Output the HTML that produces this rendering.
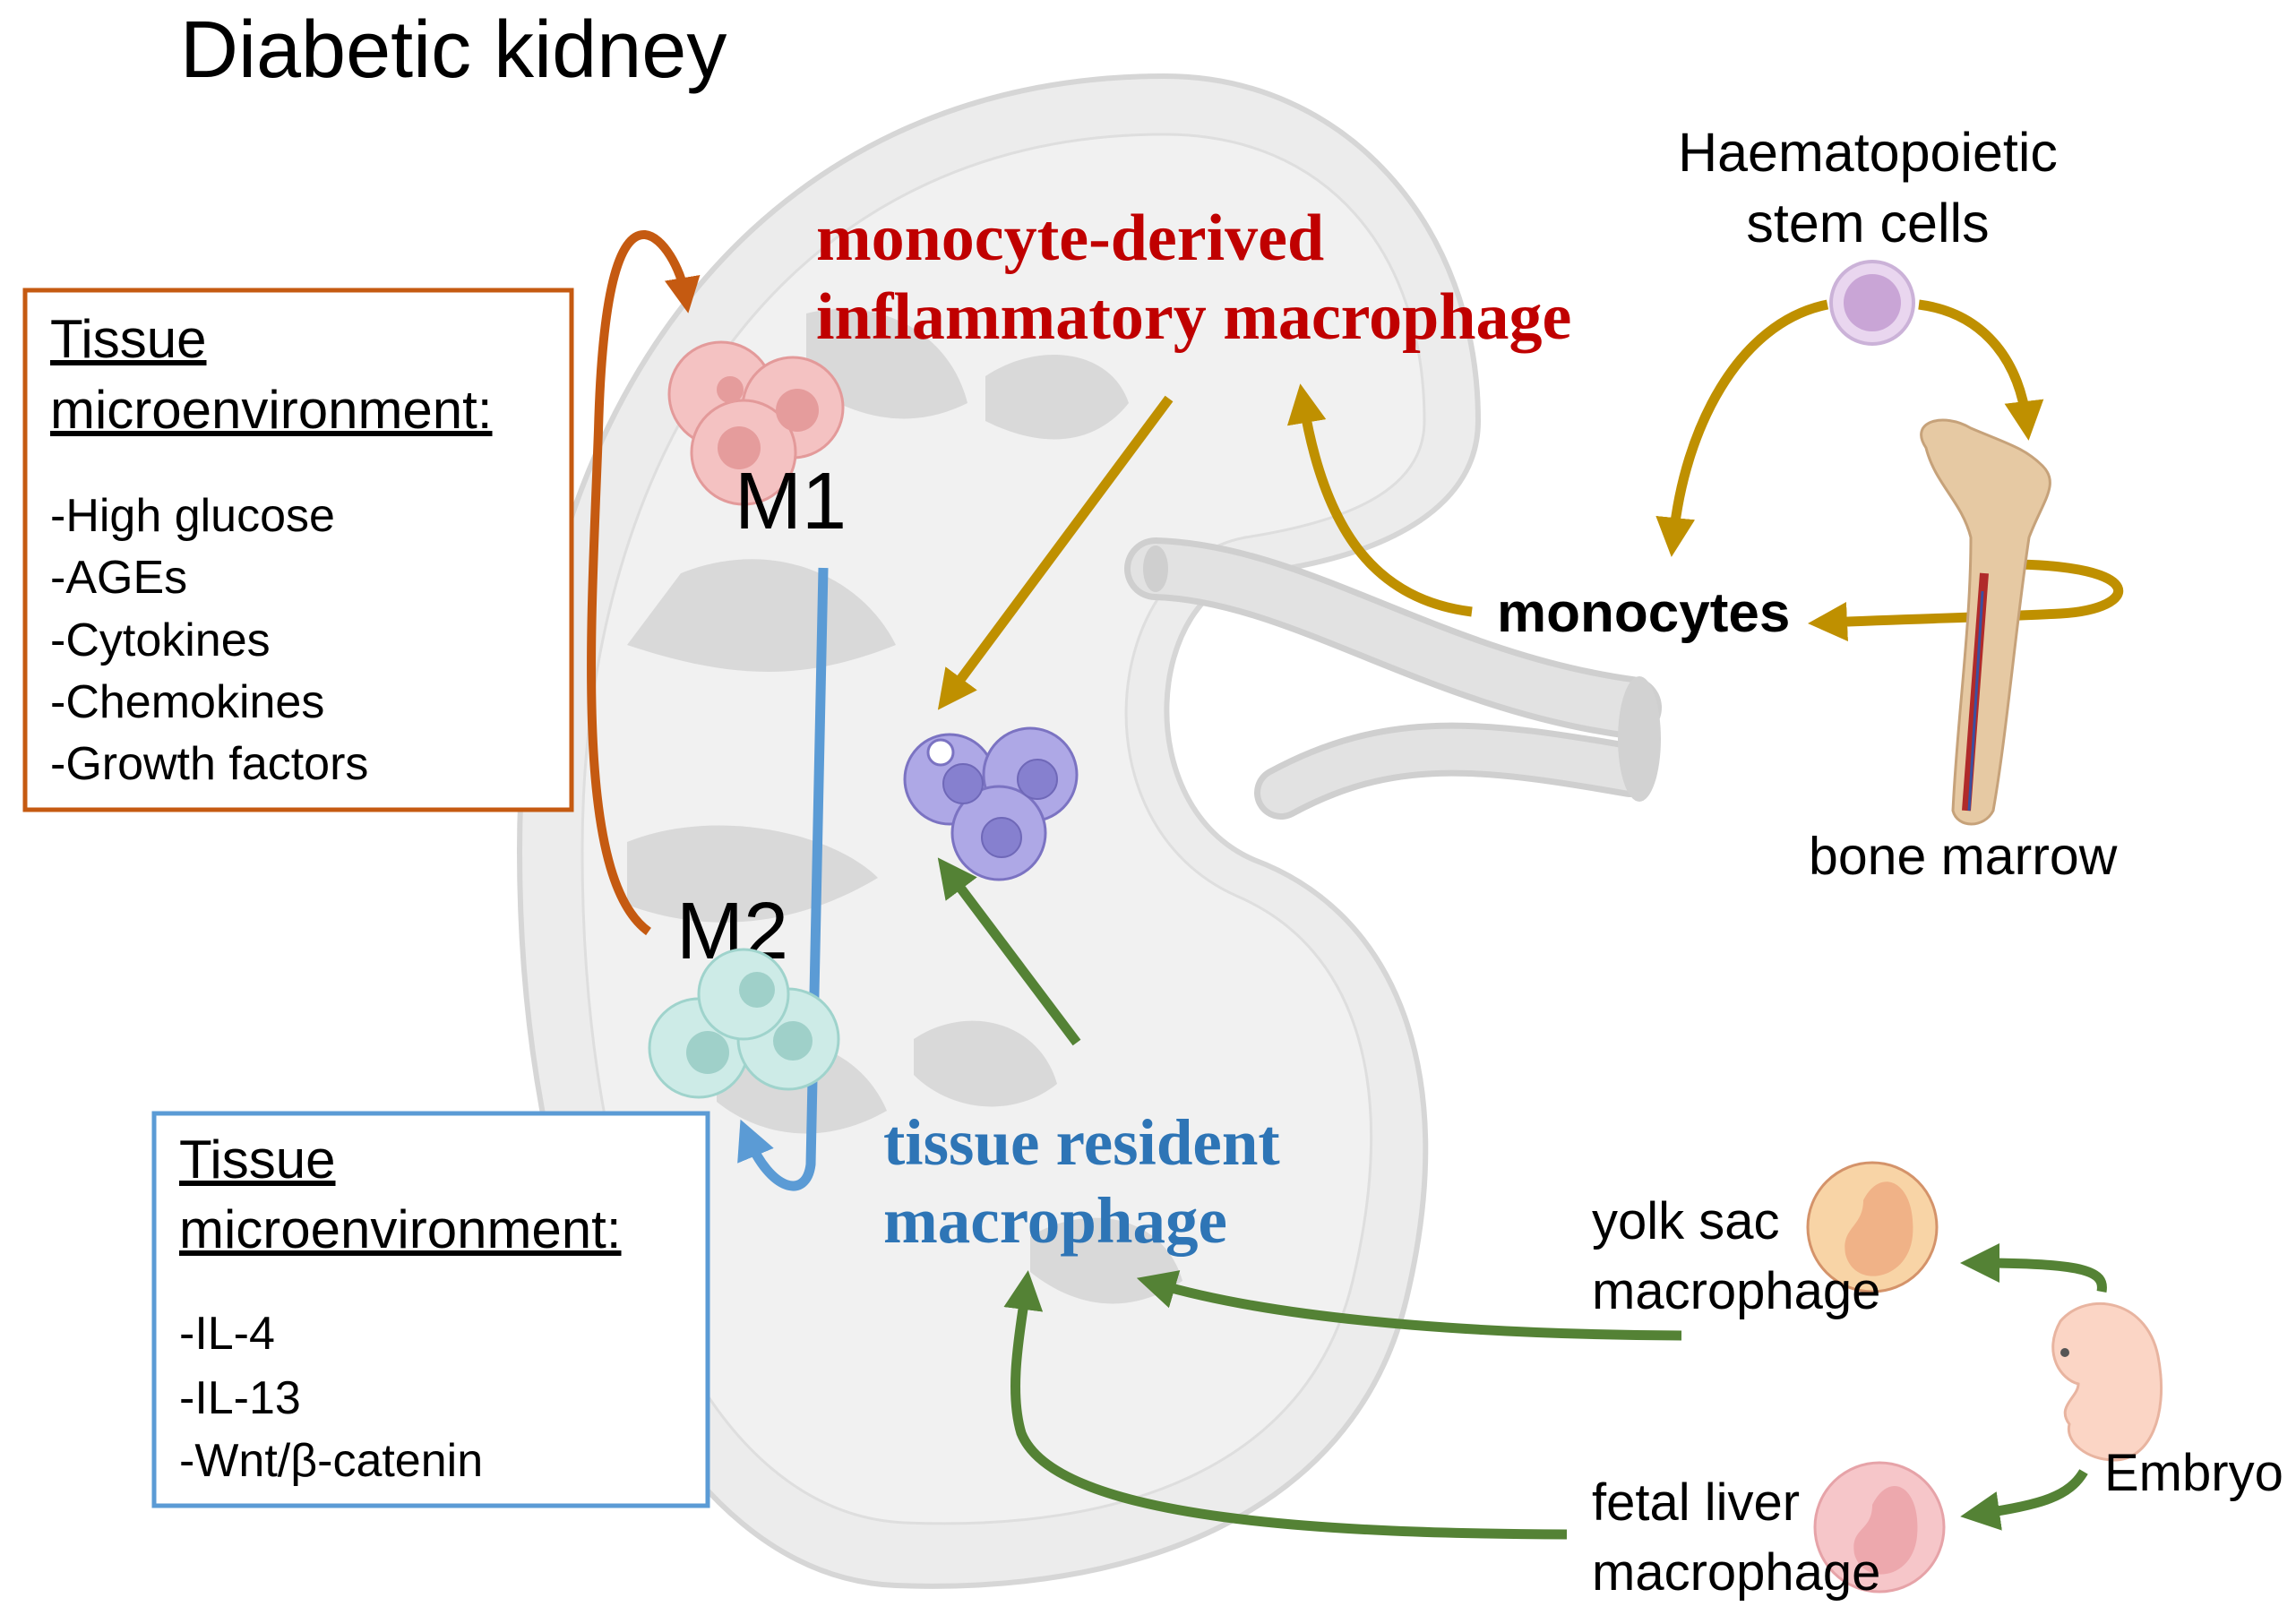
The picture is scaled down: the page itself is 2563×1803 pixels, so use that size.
<!DOCTYPE html>
<html><head><meta charset="utf-8"><style>
html,body{margin:0;padding:0;background:#fff}
svg{display:block}
.s{font-family:"Liberation Sans",sans-serif}
.r{font-family:"Liberation Serif",serif;font-weight:bold}
</style></head><body>
<svg width="2563" height="1803" viewBox="0 0 2563 1803" xmlns="http://www.w3.org/2000/svg">
<defs>
<marker id="ao" markerWidth="4" markerHeight="4" refX="2" refY="2" orient="auto" markerUnits="strokeWidth"><path d="M0,0 L4,2 L0,4 Z" fill="#c55a11"/></marker>
<marker id="ab" markerWidth="4" markerHeight="4" refX="2" refY="2" orient="auto" markerUnits="strokeWidth"><path d="M0,0 L4,2 L0,4 Z" fill="#5b9bd5"/></marker>
<marker id="ag" markerWidth="4" markerHeight="4" refX="2" refY="2" orient="auto" markerUnits="strokeWidth"><path d="M0,0 L4,2 L0,4 Z" fill="#bf9000"/></marker>
<marker id="agr" markerWidth="4" markerHeight="4" refX="2" refY="2" orient="auto" markerUnits="strokeWidth"><path d="M0,0 L4,2 L0,4 Z" fill="#548235"/></marker>
</defs>

<path d="M1300,85 C1500,85 1650,250 1650,470 C1650,560 1560,620 1400,640 C1280,660 1260,900 1400,960 C1560,1020 1630,1200 1570,1450 C1510,1700 1250,1780 1000,1770 C750,1760 580,1400 580,950 C580,450 850,85 1300,85 Z" fill="#ececec" stroke="#d6d6d6" stroke-width="6"/>
<path d="M1300,150 C1480,150 1590,280 1590,470 C1590,540 1520,580 1390,600 C1230,630 1200,920 1380,1000 C1520,1060 1560,1220 1510,1430 C1460,1640 1250,1710 1010,1700 C790,1690 650,1380 650,950 C650,500 880,150 1300,150 Z" fill="#f1f1f1" stroke="#dedede" stroke-width="3"/>
<g fill="#d9d9d9">
<path d="M760,640 C860,600 960,640 1000,720 C900,760 820,760 700,720 Z"/>
<path d="M700,940 C800,900 930,930 980,980 C880,1040 780,1040 700,1010 Z"/>
<path d="M900,350 C980,330 1060,370 1080,450 C1020,480 960,470 900,430 Z"/>
<path d="M1100,420 C1160,380 1240,390 1260,450 C1220,500 1160,500 1100,470 Z"/>
<path d="M800,1180 C880,1140 960,1170 990,1240 C920,1280 850,1270 800,1230 Z"/>
<path d="M1020,1160 C1080,1120 1160,1140 1180,1210 C1130,1250 1060,1240 1020,1200 Z"/>
<path d="M1150,1380 C1220,1340 1300,1360 1320,1430 C1260,1470 1200,1460 1150,1420 Z"/>
</g>
<g fill="none" stroke-linecap="round">
<path d="M1290,635 C1450,640 1600,760 1820,790" stroke="#cfcfcf" stroke-width="70"/>
<path d="M1290,635 C1450,640 1600,760 1820,790" stroke="#e2e2e2" stroke-width="56"/>
<path d="M1430,885 C1550,820 1650,830 1820,860" stroke="#cfcfcf" stroke-width="60"/>
<path d="M1430,885 C1550,820 1650,830 1820,860" stroke="#e2e2e2" stroke-width="46"/>
</g>
<ellipse cx="1830" cy="825" rx="24" ry="70" fill="#d2d2d2"/>
<ellipse cx="1290" cy="635" rx="14" ry="26" fill="#cfcfcf"/>

<text x="201" y="86" class="s" font-size="90" fill="#000">Diabetic kidney</text>

<rect x="28" y="324" width="610" height="580" fill="#fff" stroke="#c55a11" stroke-width="5"/>
<g class="s" font-size="60" fill="#000">
<text x="56" y="399" text-decoration="underline">Tissue</text>
<text x="56" y="478" text-decoration="underline">microenvironment:</text>
<g font-size="52">
<text x="56" y="593">-High glucose</text>
<text x="56" y="662">-AGEs</text>
<text x="56" y="732">-Cytokines</text>
<text x="56" y="801">-Chemokines</text>
<text x="56" y="870">-Growth factors</text>
</g></g>

<rect x="172" y="1243" width="618" height="438" fill="#fff" stroke="#5b9bd5" stroke-width="5"/>
<g class="s" font-size="60" fill="#000">
<text x="200" y="1315" text-decoration="underline">Tissue</text>
<text x="200" y="1393" text-decoration="underline">microenvironment:</text>
<g font-size="52">
<text x="200" y="1506">-IL-4</text>
<text x="200" y="1578">-IL-13</text>
<text x="200" y="1648">-Wnt/β-catenin</text>
</g></g>

<path d="M724,1040 C640,980 660,700 668,480 C672,330 690,260 720,262 C740,264 760,300 765,330" fill="none" stroke="#c55a11" stroke-width="10" marker-end="url(#ao)"/>
<path d="M919,634 L905,1300 C900,1340 860,1330 835,1270" fill="none" stroke="#5b9bd5" stroke-width="11" marker-end="url(#ab)"/>

<g stroke="#e39a9a" stroke-width="3" fill="#f4c2c2">
<circle cx="805" cy="440" r="58"/><circle cx="885" cy="455" r="56"/><circle cx="830" cy="505" r="58"/>
</g>
<g fill="#e59c9c"><circle cx="890" cy="458" r="24"/><circle cx="825" cy="500" r="24"/><circle cx="815" cy="435" r="15"/></g>
<text x="820" y="590" class="s" font-size="90" fill="#000">M1</text>

<g stroke="#7b73c2" stroke-width="3" fill="#aea8e6">
<circle cx="1060" cy="870" r="50"/><circle cx="1150" cy="865" r="52"/><circle cx="1115" cy="930" r="52"/>
</g>
<g fill="#8680cf" stroke="#6f68b8" stroke-width="2"><circle cx="1075" cy="875" r="22"/><circle cx="1158" cy="870" r="22"/><circle cx="1118" cy="935" r="22"/></g>
<circle cx="1050" cy="840" r="14" fill="#fff" stroke="#7b73c2" stroke-width="3"/>

<text x="755" y="1070" class="s" font-size="90" fill="#000">M2</text>
<g stroke="#9fd3cc" stroke-width="3" fill="#cdebe7">
<circle cx="780" cy="1170" r="55"/><circle cx="880" cy="1160" r="56"/><circle cx="830" cy="1110" r="50"/>
</g>
<g fill="#9fd0c9"><circle cx="790" cy="1175" r="24"/><circle cx="885" cy="1162" r="22"/><circle cx="845" cy="1105" r="20"/></g>

<g class="r" font-size="74" fill="#c00000">
<text x="911" y="290">monocyte-derived</text>
<text x="911" y="378">inflammatory macrophage</text>
</g>
<g class="r" font-size="73" fill="#2e75b6">
<text x="986" y="1300">tissue resident</text>
<text x="986" y="1387">macrophage</text>
</g>

<g fill="none" stroke="#bf9000" stroke-width="11">
<path d="M1305,445 L1060,775" marker-end="url(#ag)"/>
<path d="M1643,683 C1540,670 1480,600 1455,450" marker-end="url(#ag)"/>
<path d="M2040,340 C1940,360 1880,480 1868,600" marker-end="url(#ag)"/>
<path d="M2142,340 C2220,350 2255,410 2262,470" marker-end="url(#ag)"/>
<path d="M2240,630 C2400,630 2390,680 2300,685 C2200,690 2150,690 2040,695" marker-end="url(#ag)"/>
</g>

<circle cx="2090" cy="338" r="46" fill="#e9d6ef" stroke="#cbb2d8" stroke-width="4"/>
<circle cx="2090" cy="338" r="32" fill="#c9a5d6"/>
<g class="s" font-size="61" fill="#000" text-anchor="middle">
<text x="2085" y="191">Haematopoietic</text>
<text x="2085" y="270">stem cells</text>
</g>

<path d="M2150,500 C2130,470 2170,460 2200,478 C2240,495 2260,500 2280,520 C2300,540 2280,560 2265,600 C2250,700 2240,820 2225,905 C2215,925 2185,925 2180,905 C2185,800 2200,700 2200,600 C2190,560 2160,540 2150,500 Z" fill="#e6c9a3" stroke="#c6a27a" stroke-width="3"/>
<path d="M2215,640 L2195,905" stroke="#b02a2a" stroke-width="10"/>
<path d="M2213,660 L2198,905" stroke="#3b4fa0" stroke-width="3"/>

<text x="1671" y="705" class="s" font-size="62" font-weight="bold" fill="#000">monocytes</text>
<text x="2019" y="976" class="s" font-size="59" fill="#000">bone marrow</text>

<g fill="none" stroke="#548235" stroke-width="11">
<path d="M1202,1164 L1060,975" marker-end="url(#agr)"/>
<path d="M1877,1491 C1700,1490 1450,1480 1290,1433" marker-end="url(#agr)"/>
<path d="M1749,1713 C1500,1712 1180,1700 1140,1600 C1125,1550 1140,1480 1145,1440" marker-end="url(#agr)"/>
<path d="M2346,1442 C2350,1420 2330,1410 2210,1410" marker-end="url(#agr)"/>
<path d="M2326,1643 C2310,1670 2280,1680 2210,1690" marker-end="url(#agr)"/>
</g>

<circle cx="2090" cy="1370" r="72" fill="#f8d4a6" stroke="#d4936a" stroke-width="3"/>
<path d="M2080,1340 C2100,1300 2140,1320 2135,1380 C2130,1430 2070,1440 2060,1400 C2055,1370 2080,1370 2080,1340 Z" fill="#f0b287"/>
<circle cx="2098" cy="1705" r="72" fill="#f6c6c9" stroke="#e6a3a8" stroke-width="3"/>
<path d="M2090,1680 C2110,1640 2145,1660 2140,1715 C2135,1765 2080,1770 2070,1735 C2065,1705 2090,1710 2090,1680 Z" fill="#eda8ad"/>
<path d="M2300,1475 C2330,1440 2400,1450 2410,1520 C2420,1580 2400,1630 2360,1630 C2330,1630 2305,1610 2310,1590 C2295,1570 2320,1560 2320,1545 C2300,1540 2280,1510 2300,1475 Z" fill="#fbd5c5" stroke="#e8b4a0" stroke-width="3"/>
<circle cx="2305" cy="1510" r="5" fill="#555"/>

<g class="s" font-size="58" fill="#000">
<text x="1777" y="1383">yolk sac</text>
<text x="1777" y="1461">macrophage</text>
<text x="1777" y="1697">fetal liver</text>
<text x="1777" y="1775">macrophage</text>
<text x="2349" y="1664">Embryo</text>
</g>
</svg>
</body></html>
